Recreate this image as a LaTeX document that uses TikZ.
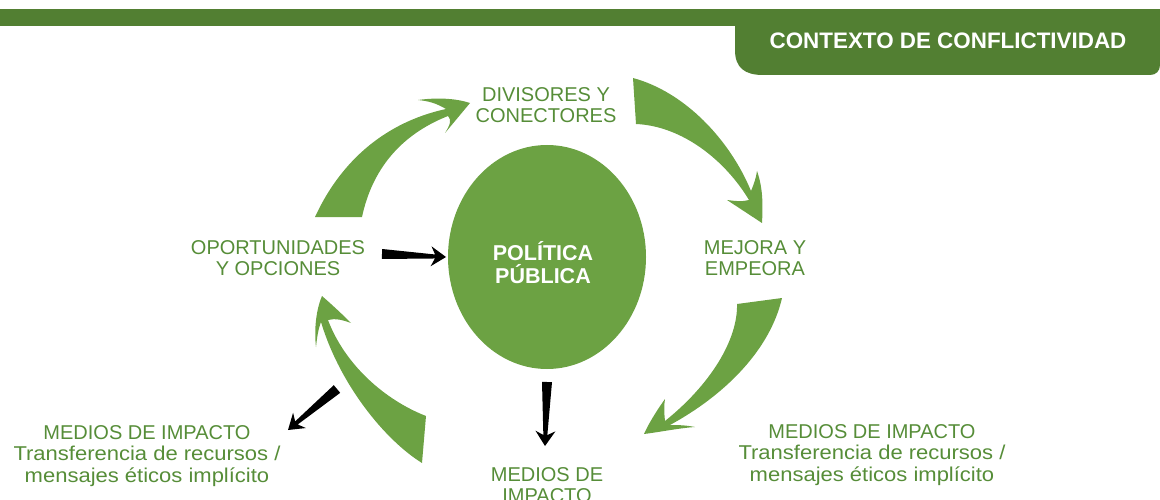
\documentclass[tikz,border=0pt]{standalone}
\usepackage{fontspec}
\setmainfont{Liberation Sans}
\newfontfamily\widesans{Liberation Sans}[FakeStretch=1.1]
\usepackage{xcolor}
\usepackage{tikz}
\usetikzlibrary{calc,shapes.geometric}

\definecolor{bargreen}{HTML}{527F32}
\definecolor{arrowgreen}{HTML}{6CA243}
\definecolor{labelgreen}{HTML}{568D38}

% black wedge arrow from #1 to #2
\newcommand{\wedgearrow}[2]{%
  \fill ($(#1)!5pt!90:(#2)$)
    -- ($($(#2)!11pt!(#1)$)!2pt!-90:(#1)$)
    -- ($($(#2)!15pt!(#1)$)!10pt!-90:(#1)$)
    -- (#2)
    -- ($($(#2)!15pt!(#1)$)!10pt!90:(#1)$)
    -- ($($(#2)!11pt!(#1)$)!2pt!90:(#1)$)
    -- ($(#1)!5pt!-90:(#2)$) -- cycle;}

\begin{document}
\begin{tikzpicture}[x=1pt,y=-1pt,
  lbl/.style={text=labelgreen, align=center, inner sep=0pt,
    font=\fontsize{20}{21.5}\selectfont},
  headtxt/.style={text=white, inner sep=0pt, font=\bfseries\fontsize{22.4}{24}\selectfont},
  poltxt/.style={text=white, align=center, inner sep=0pt,
    font=\bfseries\fontsize{21.5}{23}\selectfont}]
	\useasboundingbox (0,0) rectangle (1160,500);
	\clip (0,0) rectangle (1160,500);
	
	% header bar and tab
	\fill[bargreen] (0,9) rectangle (1160,26);
	\fill[bargreen] (735,20) -- (735,50) .. controls (735,68) and (745,75) .. (763,75)
		-- (1150,75) .. controls (1156,75) and (1160,71) .. (1160,65) -- (1160,20) -- cycle;
	\node[headtxt] (ctx) at (948,41) {CONTEXTO DE CONFLICTIVIDAD};
	
	% centre
	\node[ellipse, fill=arrowgreen, minimum width=198pt, minimum height=224pt, inner sep=0pt] (pol) at (547,257) {};
	\node[poltxt] (poltext) at (543,263) {POLÍTICA\\PÚBLICA};
	
	% labels round the cycle
	\node[lbl] (div) at (546,105) {DIVISORES Y\\CONECTORES};
	\node[lbl] (mej) at (755,258) {MEJORA Y\\EMPEORA};
	\node[lbl] (opor) at (278,258) {OPORTUNIDADES\\Y OPCIONES};
	\node[lbl] (medc) at (547,485) {MEDIOS DE\\IMPACTO};
	\node[lbl] (medl) at (147,456) {MEDIOS DE IMPACTO\\{\widesans Transferencia de recursos /}\\{\widesans mensajes éticos implícito}};
	\node[lbl] (medr) at (872,455) {MEDIOS DE IMPACTO\\{\widesans Transferencia de recursos /}\\{\widesans mensajes éticos implícito}};
	
	% green cycle arrows
	\fill[arrowgreen] (315,217) .. controls (345,152) and (395,120) .. (446,109)
		.. controls (436,103) and (428,101) .. (418,100)
		.. controls (440,97) and (458,99) .. (470,103)
		-- (445,133)
		.. controls (450,125) and (452,120) .. (448,116)
		.. controls (400,135) and (372,170) .. (362,217) -- cycle;
	\fill[arrowgreen] (633,78) .. controls (685,92) and (730,140) .. (751,191)
		.. controls (754,184) and (756,178) .. (757,171)
		.. controls (763,188) and (763,205) .. (762,223)
		-- (727,200)
		.. controls (735,201) and (742,202) .. (749,200)
		.. controls (725,160) and (682,126) .. (636,124) -- cycle;
	\fill[arrowgreen] (737,304) .. controls (738,340) and (710,385) .. (665,421)
		.. controls (664,412) and (664,405) .. (665,399)
		.. controls (655,413) and (648,425) .. (644,434)
		.. controls (660,432) and (680,428) .. (695,427)
		.. controls (685,425) and (676,425) .. (670,425)
		.. controls (725,395) and (770,350) .. (782,298) -- cycle;
	\fill[arrowgreen] (426,416) .. controls (385,400) and (345,365) .. (328,320)
		.. controls (335,318) and (343,320) .. (351,323)
		.. controls (340,312) and (330,303) .. (322,296)
		.. controls (316,310) and (314,330) .. (316,347)
		.. controls (317,338) and (318,330) .. (321,322)
		.. controls (340,385) and (385,440) .. (422,463) -- cycle;
	
	% black arrows
	\coordinate (h1) at (382,254);
	\coordinate (h2) at (446,257);
	\coordinate (d1) at (547,382);
	\coordinate (d2) at (545,446);
	\coordinate (g1) at (337,389);
	\coordinate (g2) at (288,430);
	\wedgearrow{h1}{h2}
	\wedgearrow{d1}{d2}
	\wedgearrow{g1}{g2}
\end{tikzpicture}
\end{document}
